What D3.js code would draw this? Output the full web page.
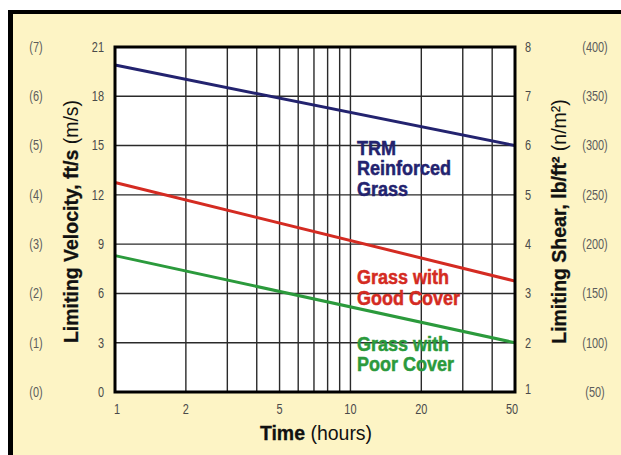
<!DOCTYPE html>
<html>
<head>
<meta charset="utf-8">
<script src="https://cdn.jsdelivr.net/npm/d3@7"></script>
<style>
  html, body { margin: 0; padding: 0; background: #ffffff; }
  svg { display: block; }
</style>
</head>
<body>
<svg id="chart" width="621" height="455"></svg>
<script>
// ---------- data ----------
const hours = [1, 50];
const trmReinforced = [19.9, 15.0];
const grassGoodCover = [12.75, 6.75];
const grassPoorCover = [8.3, 3.0];

const xTickLabels = [1, 2, 5, 10, 20, 50];
const xGridValues = [1, 2, 3, 4, 5, 6, 7, 8, 9, 10, 20, 30, 40, 50];
const velocityTicks = [0, 3, 6, 9, 12, 15, 18, 21];          // ft/s
const velocityMetric = ["(0)", "(1)", "(2)", "(3)", "(4)", "(5)", "(6)", "(7)"]; // m/s
const shearTicks = [1, 2, 3, 4, 5, 6, 7, 8];                  // lb/ft²
const shearMetric = ["(50)", "(100)", "(150)", "(200)", "(250)", "(300)", "(350)", "(400)"]; // N/m²

const seriesLabels = [
  ["TRM", "Reinforced", "Grass"],
  ["Grass with", "Good Cover"],
  ["Grass with", "Poor Cover"]
];
const seriesColors = ["#23236f", "#d42b22", "#2b9a3c"];

// ---------- layout ----------
const svg = d3.select("#chart");
const W = 621, H = 455;
const plot = { left: 115, right: 515, top: 47, bottom: 392 };
const font = "'Liberation Sans', Arial, Helvetica, sans-serif";

// squeeze a text/tspan horizontally to mimic a condensed face
function condense(sel, factor) {
  sel.each(function () {
    const len = this.getComputedTextLength();
    d3.select(this).attr("textLength", len * factor).attr("lengthAdjust", "spacingAndGlyphs");
  });
}

// frame
svg.append("rect").attr("x", 8).attr("y", 10).attr("width", W).attr("height", H).attr("fill", "#000");
svg.append("rect").attr("x", 13).attr("y", 14).attr("width", W).attr("height", H).attr("fill", "#fdf4c5");

const x = d3.scaleLog().domain([1, 50]).range([plot.left, plot.right]);
const yV = d3.scaleLinear().domain([0, 21]).range([plot.bottom, plot.top]);
const yS = d3.scaleLinear().domain([1, 8]).range([plot.bottom, plot.top]);
const yM = d3.scaleLinear().domain([0, 7]).range([plot.bottom, plot.top]);

// plot background
svg.append("rect")
  .attr("x", plot.left).attr("y", plot.top)
  .attr("width", plot.right - plot.left).attr("height", plot.bottom - plot.top)
  .attr("fill", "#ffffff");

// grid
const grid = svg.append("g").attr("stroke", "#2a2a2a").attr("stroke-width", 1.4);
grid.selectAll("line.v").data(xGridValues).join("line")
  .attr("x1", d => x(d)).attr("x2", d => x(d))
  .attr("y1", plot.top).attr("y2", plot.bottom);
grid.selectAll("line.h").data(velocityTicks).join("line")
  .attr("x1", plot.left).attr("x2", plot.right)
  .attr("y1", d => yV(d)).attr("y2", d => yV(d));

// series lines
const allSeries = [trmReinforced, grassGoodCover, grassPoorCover];
const line = d3.line().x(d => x(d[0])).y(d => yV(d[1]));
allSeries.forEach((vals, i) => {
  svg.append("path")
    .datum(hours.map((h, j) => [h, vals[j]]))
    .attr("d", line)
    .attr("fill", "none")
    .attr("stroke", seriesColors[i])
    .attr("stroke-width", 3);
});

// plot border
svg.append("rect")
  .attr("x", plot.left).attr("y", plot.top)
  .attr("width", plot.right - plot.left).attr("height", plot.bottom - plot.top)
  .attr("fill", "none").attr("stroke", "#000").attr("stroke-width", 3);

// series labels (first baseline in ft/s units)
const labelAnchorValue = [14.45, 6.55, 2.5];
seriesLabels.forEach((lines, i) => {
  const t = svg.append("text")
    .attr("font-family", font)
    .attr("font-weight", "bold")
    .attr("font-size", 20)
    .attr("fill", seriesColors[i])
    .attr("stroke", seriesColors[i])
    .attr("stroke-width", 0.5);
  lines.forEach((s, k) => {
    t.append("tspan").attr("x", 357).attr("y", yV(labelAnchorValue[i]) + k * 20.5).text(s);
  });
  condense(t.selectAll("tspan"), 0.9);
});

const tickStyle = sel => sel.attr("font-family", font).attr("font-size", 14);

// left axis ticks (ft/s)
svg.append("g").selectAll("text").data(velocityTicks).join("text")
  .attr("x", 104).attr("y", d => yV(d)).attr("dy", "0.35em")
  .attr("text-anchor", "end").attr("fill", "#4a4a4a")
  .call(tickStyle).text(d => d).call(condense, 0.78);
// m/s
svg.append("g").selectAll("text").data(velocityMetric).join("text")
  .attr("x", 36).attr("y", (d, i) => yM(i)).attr("dy", "0.35em")
  .attr("text-anchor", "middle").attr("fill", "#5c5c5c")
  .call(tickStyle).text(d => d).call(condense, 0.78);
// right axis (lb/ft²)
svg.append("g").selectAll("text").data(shearTicks).join("text")
  .attr("x", 525).attr("y", d => yS(d) - (d === 1 ? 3 : 0)).attr("dy", "0.35em")
  .attr("text-anchor", "start").attr("fill", "#4a4a4a")
  .call(tickStyle).text(d => d).call(condense, 0.78);
// N/m²
svg.append("g").selectAll("text").data(shearMetric).join("text")
  .attr("x", 595).attr("y", (d, i) => yS(i + 1)).attr("dy", "0.35em")
  .attr("text-anchor", "middle").attr("fill", "#5c5c5c")
  .call(tickStyle).text(d => d).call(condense, 0.78);
// x ticks
svg.append("g").selectAll("text").data(xTickLabels).join("text")
  .attr("x", d => x(d) + (d === 1 ? 2 : d === 50 ? -3 : 0)).attr("y", 414)
  .attr("text-anchor", "middle").attr("fill", "#4a4a4a")
  .call(tickStyle).text(d => d).call(condense, 0.78);

// axis titles
const midY = (plot.top + plot.bottom) / 2 + 2;
const lt = svg.append("text")
  .attr("transform", `translate(78,${midY}) rotate(-90)`)
  .attr("text-anchor", "middle")
  .attr("font-family", font).attr("font-size", 20.5).attr("fill", "#111");
lt.append("tspan").attr("font-weight", "bold").attr("stroke", "#111").attr("stroke-width", 0.3).text("Limiting Velocity, ft/s");
lt.append("tspan").attr("font-weight", "normal").text(" (m/s)");
condense(lt.selectAll("tspan"), 0.95);

const rt = svg.append("text")
  .attr("transform", `translate(566,${midY}) rotate(-90)`)
  .attr("text-anchor", "middle")
  .attr("font-family", font).attr("font-size", 20.5).attr("fill", "#111");
rt.append("tspan").attr("font-weight", "bold").attr("stroke", "#111").attr("stroke-width", 0.3).text("Limiting Shear, lb/ft²");
rt.append("tspan").attr("font-weight", "normal").text(" (n/m²)");
condense(rt.selectAll("tspan"), 0.95);

const bt = svg.append("text")
  .attr("x", 316).attr("y", 440)
  .attr("text-anchor", "middle")
  .attr("font-family", font).attr("font-size", 20.5).attr("fill", "#111");
bt.append("tspan").attr("font-weight", "bold").attr("stroke", "#111").attr("stroke-width", 0.3).text("Time");
bt.append("tspan").attr("font-weight", "normal").text(" (hours)");
condense(bt.selectAll("tspan"), 0.95);
</script>
</body>
</html>
